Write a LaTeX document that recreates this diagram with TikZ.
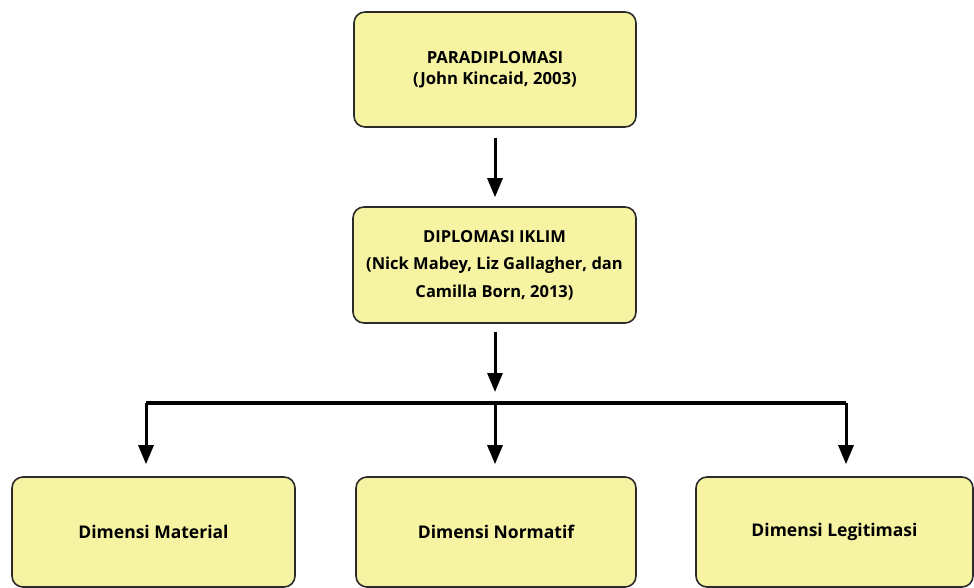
\documentclass[tikz,border=0pt]{standalone}
\usepackage{fontspec}
\setmainfont{Open Sans}[BoldFont={* Bold}]
\usetikzlibrary{arrows.meta}
\usetikzlibrary{positioning}

\definecolor{boxfill}{HTML}{F6F3A2}
\definecolor{boxline}{HTML}{2B2B2B}

\tikzset{
  box/.style={draw=boxline, line width=1.6pt, fill=boxfill, rounded corners=11pt,
    align=center, font=\bfseries\fontsize{17.5}{21}\selectfont, inner sep=0pt},
  arr/.style={line width=3pt, -{Triangle[length=19pt,width=15pt]}},
}

\begin{document}
\begin{tikzpicture}[x=1pt,y=-1pt]
    \useasboundingbox (0,0) rectangle (974,588);
    \node[box, minimum width=282pt, minimum height=115pt,
      font=\bfseries\fontsize{16.7}{21.5}\selectfont] (para) at (495,69.5)
      {PARADIPLOMASI\\(John Kincaid, 2003)};
    \node[box, minimum width=283pt, minimum height=116pt,
      font=\bfseries\fontsize{16.5}{27.5}\selectfont] (iklim) at (494.5,265)
      {DIPLOMASI IKLIM\\(Nick Mabey, Liz Gallagher, dan\\Camilla Born, 2013)};
    \node[box, minimum width=283pt, minimum height=110pt] (material) at (153.5,532)
      {Dimensi Material};
    \node[box, minimum width=280pt, minimum height=110pt] (normatif) at (496,532)
      {Dimensi Normatif};
    \node[box, minimum width=277pt, minimum height=110pt] (legit) at (834.5,532)
      {Dimensi Legitimasi};
    % branching bar
    \coordinate (barL) at (146,403);
    \coordinate (barM) at (495,403);
    \coordinate (barR) at (846,403);
    \draw[line width=3.4pt] (barL) -- (barR);
    \draw[arr, shorten <=10pt, shorten >=9pt] (para.south -| barM) -- (iklim.north -| barM);
    \draw[arr, shorten <=8pt, shorten >=11pt] (iklim.south -| barM) -- (barM);
    \draw[arr, shorten >=12pt] (barL) -- (barL |- material.north);
    \draw[arr, shorten >=12pt] (barM) -- (barM |- normatif.north);
    \draw[arr, shorten >=12pt] (barR) -- (barR |- legit.north);
\end{tikzpicture}
\end{document}
